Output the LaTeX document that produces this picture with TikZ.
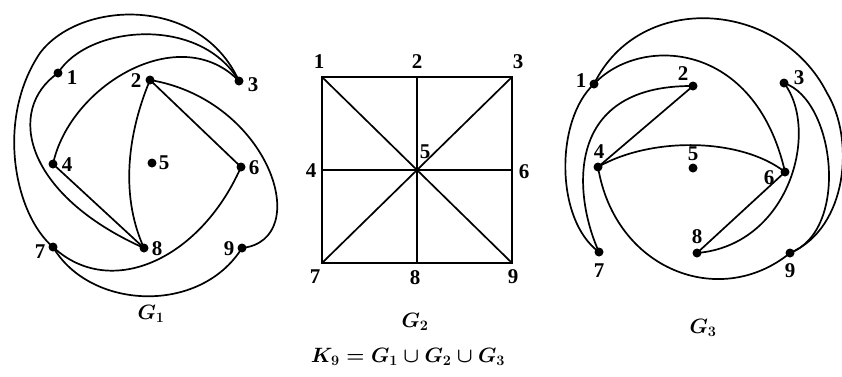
\documentclass[tikz,border=0pt]{standalone}
\usepackage{fontspec}
\setmainfont{Liberation Serif}
\usepackage{amsmath}
\begin{document}
\begin{tikzpicture}[x=1pt,y=-1pt,
  dot/.style={circle,fill=black,inner sep=0pt,minimum size=9pt},
  lbl/.style={inner sep=0pt,font=\fontsize{21}{21}\selectfont\bfseries},
  glbl/.style={inner sep=0pt,font=\fontsize{22}{22}\selectfont\boldmath},
  edge/.style={line width=1.7pt},
  sq/.style={line width=1.9pt}]
\useasboundingbox (0,0) rectangle (842,376);
% ---------- G1 ----------
\node[dot] (a1) at (58,73) {};
\node[dot] (a2) at (150,80) {};
\node[dot] (a3) at (239,81) {};
\node[dot] (a4) at (53,164) {};
\node[dot] (a5) at (152,163) {};
\node[dot] (a6) at (241,167) {};
\node[dot] (a7) at (53,247) {};
\node[dot] (a8) at (144,248) {};
\node[dot] (a9) at (242,248) {};
\node[lbl] (la1) at (72,78) {1};
\node[lbl] (la2) at (136,81) {2};
\node[lbl] (la3) at (253,85) {3};
\node[lbl] (la4) at (67,165) {4};
\node[lbl] (la5) at (164,163) {5};
\node[lbl] (la6) at (254,168) {6};
\node[lbl] (la7) at (40,252) {7};
\node[lbl] (la8) at (157,249) {8};
\node[lbl] (la9) at (229,249) {9};
\node[glbl] (g1) at (151,314) {$G_1$};
\draw[edge] (a1.center) .. controls (88,25) and (200,15) .. (a3.center);
\coordinate (a73) at (40,53);
\draw[edge] (a7.center) .. controls (15,215) and (-5,120) .. (a73) .. controls (80,0) and (200,-5) .. (a3.center);
\draw[edge] (a4.center) .. controls (70,85) and (180,20) .. (a3.center);
\draw[edge] (a2.center) -- (a6.center);
\draw[edge] (a2.center) .. controls (270,100) and (315,240) .. (a9.center);
\draw[edge] (a2.center) .. controls (125,140) and (122,200) .. (a8.center);
\draw[edge] (a4.center) -- (a8.center);
\draw[edge] (a1.center) .. controls (5,110) and (25,195) .. (a8.center);
\draw[edge] (a6.center) .. controls (200,260) and (110,300) .. (a7.center);
\draw[edge] (a7.center) .. controls (90,310) and (200,315) .. (a9.center);
% ---------- G2 ----------
\coordinate (b1) at (322,77);
\coordinate (b2) at (417,77);
\coordinate (b3) at (512,77);
\coordinate (b4) at (322,170);
\coordinate (b5) at (417,170);
\coordinate (b6) at (512,170);
\coordinate (b7) at (322,263);
\coordinate (b8) at (417,263);
\coordinate (b9) at (512,263);
\draw[sq] (b1) -- (b2) -- (b3) -- (b6) -- (b9) -- (b8) -- (b7) -- (b4) -- cycle;
\draw[edge] (b1) -- (b5) -- (b9);
\draw[edge] (b3) -- (b5) -- (b7);
\draw[edge] (b2) -- (b5) -- (b8);
\draw[edge] (b4) -- (b5) -- (b6);
\node[lbl] (lb1) at (319,62) {1};
\node[lbl] (lb2) at (417,62) {2};
\node[lbl] (lb3) at (518,62) {3};
\node[lbl] (lb4) at (311,171) {4};
\node[lbl] (lb5) at (425,152) {5};
\node[lbl] (lb6) at (524,172) {6};
\node[lbl] (lb7) at (315,277) {7};
\node[lbl] (lb8) at (415,278) {8};
\node[lbl] (lb9) at (513,277) {9};
\node[glbl] (g2) at (415,322) {$G_2$};
% ---------- G3 ----------
\node[dot] (c1) at (594,84) {};
\node[dot] (c2) at (693,86) {};
\node[dot] (c3) at (784,83) {};
\node[dot] (c4) at (598,167) {};
\node[dot] (c5) at (693,168) {};
\node[dot] (c6) at (785,172) {};
\node[dot] (c7) at (599,252) {};
\node[dot] (c8) at (697,253) {};
\node[dot] (c9) at (790,253) {};
\node[lbl] (lc1) at (581,81) {1};
\node[lbl] (lc2) at (683,74) {2};
\node[lbl] (lc3) at (799,78) {3};
\node[lbl] (lc4) at (599,152) {4};
\node[lbl] (lc5) at (693,154) {5};
\node[lbl] (lc6) at (769,178) {6};
\node[lbl] (lc7) at (599,271) {7};
\node[lbl] (lc8) at (697,237) {8};
\node[lbl] (lc9) at (790,271) {9};
\node[glbl] (g3) at (703,328) {$G_3$};
\coordinate (c19) at (827,93);
\draw[edge] (c1.center) .. controls (640,-10) and (780,0) .. (c19) .. controls (855,139) and (848,228) .. (c9.center);
\draw[edge] (c1.center) .. controls (640,35) and (755,40) .. (c6.center);
\draw[edge] (c1.center) .. controls (555,120) and (555,220) .. (c7.center);
\draw[edge] (c2.center) -- (c4.center);
\draw[edge] (c2.center) .. controls (560,85) and (575,200) .. (c7.center);
\draw[edge] (c4.center) .. controls (650,137) and (740,137) .. (c6.center);
\draw[edge] (c4.center) .. controls (615,270) and (720,310) .. (c9.center);
\draw[edge] (c6.center) -- (c8.center);
\draw[edge] (c3.center) .. controls (820,130) and (790,245) .. (c8.center);
\draw[edge] (c3.center) .. controls (835,100) and (850,230) .. (c9.center);
% ---------- caption ----------
\node[glbl] (cap) at (408,357) {$K_9 = G_1 \cup G_2 \cup G_3$};
\end{tikzpicture}
\end{document}
